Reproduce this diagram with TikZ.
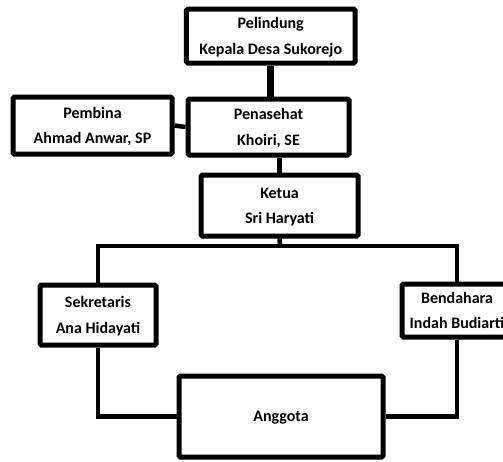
\documentclass[tikz,border=0pt]{standalone}
\usepackage{fontspec}
\setmainfont{Carlito}
\usetikzlibrary{positioning}
\tikzset{
	box/.style={draw, line width=3.75pt, rounded corners=1pt, align=center, inner sep=0pt,
		text depth=0pt, font=\bfseries\fontsize{12}{19}\selectfont},
	link/.style={line width=3.4pt},
}
\begin{document}
\begin{tikzpicture}[x=0.75pt,y=-0.75pt]
		\useasboundingbox (0,0) rectangle (503,461);
		\node[box, minimum width=126.4pt, minimum height=40.5pt] (pelindung) at (270.75,36) {Pelindung\\Kepala Desa Sukorejo};
		\node[box, minimum width=120.75pt, minimum height=42pt] (penasehat) at (268.5,127) {Penasehat\\Khoiri, SE};
		\node[box, minimum width=119.25pt, minimum height=42.75pt] (pembina) at (92.5,125.5) {Pembina\\Ahmad Anwar, SP};
		\node[box, minimum width=117.75pt, minimum height=45.75pt] (ketua) at (279.5,205.5) {Ketua\\Sri Haryati};
		\node[box, minimum width=87pt, minimum height=45pt] (sekretaris) at (98,315) {Sekretaris\\Ana Hidayati};
		\node[box, minimum width=82.5pt, minimum height=39.75pt] (bendahara) at (457,310.5) {Bendahara\\Indah Budiarti};
		\node[box, minimum width=153pt, minimum height=60.75pt] (anggota) at (281,416.5) {Anggota};
		\coordinate (split) at (280,246);
		\draw[link, line width=5.25pt] (pelindung.south) -- (pelindung.south |- penasehat.north);
		\draw[link] (pembina.east) -- (penasehat.west);
		\draw[link] (ketua.north |- penasehat.south) -- (ketua.north);
		\draw[link] (ketua.south) -- (split);
		\draw[link] (sekretaris.north) |- (split) -| (bendahara.north);
		\draw[link] (sekretaris.south) |- (anggota.west);
		\draw[link] (bendahara.south) |- (anggota.east);
	\end{tikzpicture}
\end{document}
